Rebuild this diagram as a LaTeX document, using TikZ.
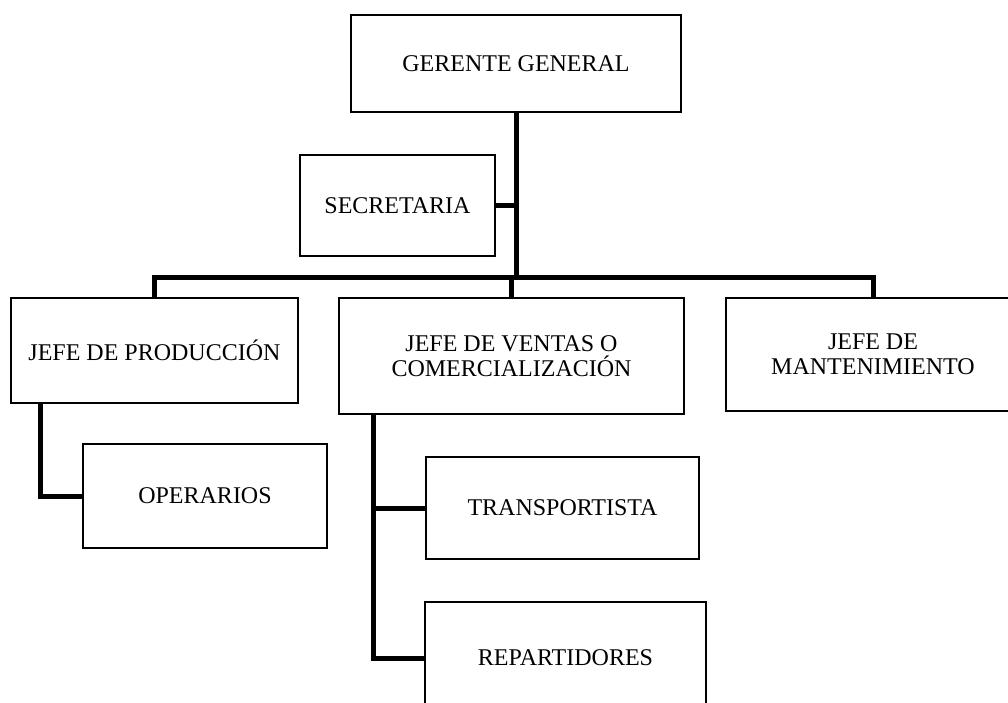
\documentclass[tikz,border=0pt]{standalone}
\usepackage{fontspec}
\setmainfont{Liberation Serif}
\begin{document}
\begin{tikzpicture}[x=1pt,y=-1pt,
  box/.style={draw=black,line width=1.3pt,rectangle,inner sep=0pt,align=center,
    font=\fontsize{24}{25.5}\selectfont,text=black},
  conn/.style={draw=black,line width=5pt,line join=miter}]
\useasboundingbox (0,0) rectangle (1008,702);
\clip (0,0) rectangle (1008,702);
% boxes
\node[box,minimum width=330pt,minimum height=97pt] (gg) at (516,63.5) {GERENTE GENERAL};
\node[box,minimum width=195pt,minimum height=101pt] (sec) at (397.5,205.5) {SECRETARIA};
\node[box,minimum width=287pt,minimum height=105pt] (jp) at (154.5,350.5) {JEFE DE PRODUCCIÓN};
\node[box,minimum width=345pt,minimum height=116pt] (jv) at (511.5,356) {JEFE DE VENTAS O\\COMERCIALIZACIÓN};
\node[box,minimum width=294pt,minimum height=113pt] (jm) at (873,354.5) {JEFE DE\\MANTENIMIENTO};
\node[box,minimum width=244pt,minimum height=104pt] (op) at (205,496) {OPERARIOS};
\node[box,minimum width=273pt,minimum height=102pt] (tr) at (562.5,508) {TRANSPORTISTA};
\node[box,minimum width=281pt,minimum height=112pt] (rep) at (565.5,658) {REPARTIDORES};
% bus coordinates
\coordinate (busL) at (154.5,277);
\coordinate (busR) at (873,277);
\coordinate (jpx) at (40,0);
\coordinate (jvx) at (373,0);
% connectors
\draw[conn] (gg.south) -- (gg.south |- busL);
\draw[conn] (sec.east) -- (sec.east -| gg.south);
\draw[conn] (jp.north) -- (busL) -- (busR) -- (jm.north);
\draw[conn] (jv.north) -- (jv.north |- busL);
\draw[conn] (jpx |- jp.south) -- (jpx |- op.west) -- (op.west);
\draw[conn] (jvx |- jv.south) -- (jvx |- rep.west) -- (rep.west);
\draw[conn] (jvx |- tr.west) -- (tr.west);
\end{tikzpicture}
\end{document}
